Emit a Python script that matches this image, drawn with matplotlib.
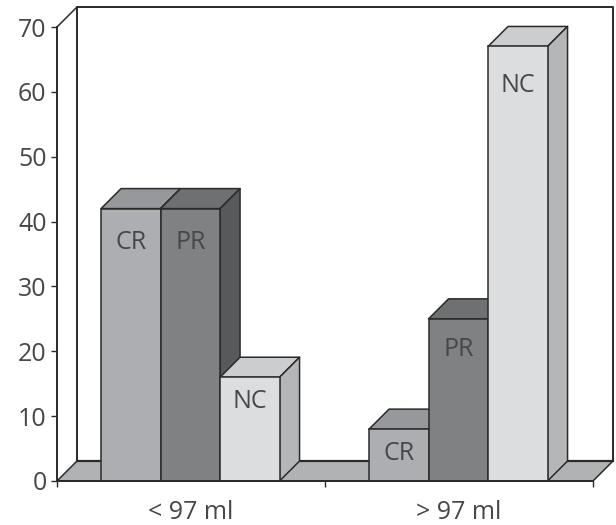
import matplotlib
matplotlib.use("Agg")
import matplotlib.pyplot as plt

plt.rcParams['font.family'] = ['Open Sans', 'DejaVu Sans']

groups = ["< 97 ml", "> 97 ml"]
bar_names = ["CR", "PR", "NC"]
values_low = [42, 42, 16]
values_high = [8, 25, 67]
y_ticks = [0, 10, 20, 30, 40, 50, 60, 70]

# how far each bar's text sits under its top, in px
label_drop = [[34, 34, 24], [24, 31, 39]]

front_col = {"CR": "#adaeb1", "PR": "#808183", "NC": "#dcddde"}
top_col = {"CR": "#97989b", "PR": "#6f7072", "NC": "#cccdce"}
side_col = {"CR": "#8f9093", "PR": "#58595b", "NC": "#b5b6b8"}
line_col = "#2b2a2a"
text_col = "#474748"
lw = 1.1

W, H = 616, 525
fig = plt.figure(figsize=(W / 100, H / 100), dpi=100)
# axes box in pixels: x 57-593, y 27-481
ax = fig.add_axes([57 / W, 1 - 481 / H, (593 - 57) / W, (481 - 27) / H])
ax.set_xlim(0, 2)
ax.set_ylim(0, 70)

# 3d depth, 20 px in data units
dx = 20 / 268
dy = 20 / (454 / 70)
bar_w = 59.5 / 268
nudge = -0.7 / 268


def poly(xs, ys, fc, z):
    ax.fill(xs, ys, facecolor=fc, edgecolor=line_col, linewidth=lw,
            joinstyle='round', clip_on=False, zorder=z)


# floor and back wall
poly([0, 2, 2 + dx, dx], [0, 0, dy, dy], "#b1b2b4", 1)
ax.plot([dx, 2 + dx], [dy, dy], color=line_col, lw=1.6, clip_on=False, zorder=1.5)
ax.plot([dx, dx, 2 + dx, 2 + dx], [dy, 70 + dy, 70 + dy, dy], color=line_col,
        lw=1.4, clip_on=False, zorder=1.5)
ax.plot([0, dx], [70, 70 + dy], color=line_col, lw=lw, clip_on=False, zorder=1.5)

z = 2
for g, vals in enumerate([values_low, values_high]):
    for i, (name, v) in enumerate(zip(bar_names, vals)):
        left = g + 0.5 + (i - 1.5) * bar_w + nudge
        right = left + bar_w
        poly([left, right, right + dx, left + dx], [v, v, v + dy, v + dy], top_col[name], z)
        poly([right, right + dx, right + dx, right], [0, dy, v + dy, v], side_col[name], z)
        ax.bar(left, v, width=bar_w, align='edge', color=front_col[name],
               edgecolor=line_col, linewidth=lw, zorder=z + 0.5, clip_on=False)
        ax.annotate(name, (left + bar_w / 2, v), xytext=(0, -label_drop[g][i] * 0.72),
                    textcoords='offset points', ha='center', va='center', fontsize=18,
                    color=text_col, zorder=z + 0.6)
        z += 1

for s in ['top', 'right']:
    ax.spines[s].set_visible(False)
for s in ['left', 'bottom']:
    ax.spines[s].set_linewidth(1.4)
    ax.spines[s].set_color(line_col)
    ax.spines[s].set_zorder(50)

ax.set_yticks(y_ticks)
ax.set_xticks([0, 1, 2])
ax.set_xticklabels([])
ax.set_xticks([0.5, 1.5], minor=True)
ax.set_xticklabels(groups, minor=True)
ax.tick_params(axis='x', which='minor', length=0, pad=13.5, labelsize=18, labelcolor=text_col)
ax.tick_params(axis='x', which='major', length=4.5, width=1, color=line_col)
ax.tick_params(axis='y', length=4.5, width=1, color=line_col, pad=3, labelsize=18,
               labelcolor=text_col)

fig.savefig("out.png", dpi=100)
